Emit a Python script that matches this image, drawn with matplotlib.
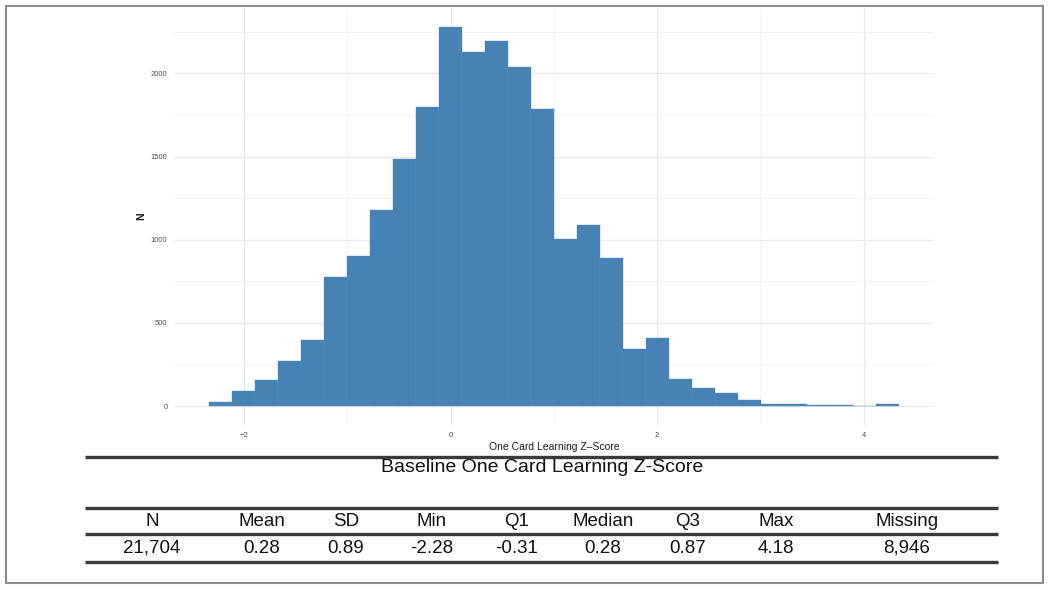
import numpy as np
import matplotlib
matplotlib.use("Agg")
import matplotlib.pyplot as plt
from matplotlib.patches import Rectangle

plt.rcParams['font.family'] = ['Liberation Sans', 'DejaVu Sans']

# histogram counts (30 bins, ggplot default binning)
counts = [26, 90, 154, 270, 395, 777, 902, 1176, 1485, 1799,
          2280, 2128, 2196, 2036, 1787, 1002, 1088, 888, 343, 409,
          162, 108, 80, 38, 14, 10, 8, 5, 0, 12]

# summary table
stat_names = ["N", "Mean", "SD", "Min", "Q1", "Median", "Q3", "Max", "Missing"]
stat_values = ["21,704", "0.28", "0.89", "-2.28", "-0.31", "0.28", "0.87", "4.18", "8,946"]
z_min, z_max = -2.28, 4.18

table_title = "Baseline One Card Learning Z-Score"
x_label = "One Card Learning Z\u2013Score"
y_label = "N"
x_ticks = [-2, 0, 2, 4]
y_ticks = [0, 500, 1000, 1500, 2000]

W, H = 1050, 590
fig = plt.figure(figsize=(W / 100, H / 100), dpi=100)

# bins like ggplot: width = range / (bins - 1), boundary = width / 2
n_bins = len(counts)
bw = (z_max - z_min) / (n_bins - 1)
origin = bw / 2 + np.floor((z_min - bw / 2) / bw) * bw
edges = origin + bw * np.arange(n_bins + 1)
centers = (edges[:-1] + edges[1:]) / 2

ax = fig.add_axes([174.4 / W, 1 - 425 / H, 759.3 / W, 417.2 / H])
ax.bar(centers, counts, width=bw, color='#4682b4', edgecolor='#5a90c0',
       linewidth=0.3, zorder=2)

xr = edges[-1] - edges[0]
ax.set_xlim(edges[0] - 0.05 * xr, edges[-1] + 0.05 * xr)
ymax = max(counts)
ax.set_ylim(-0.05 * ymax, 1.05 * ymax)

ax.set_xticks(x_ticks)
ax.set_xticks([-1, 1, 3], minor=True)
ax.set_yticks(y_ticks)
ax.set_yticks([250, 750, 1250, 1750, 2250], minor=True)
ax.set_xticklabels([str(t).replace('-', '\u2212') for t in x_ticks])
ax.grid(which='major', color='#e8e8e8', linewidth=0.9, zorder=0)
ax.grid(which='minor', color='#f1f1f1', linewidth=0.6, zorder=0)
ax.tick_params(which='both', length=0, labelsize=5.5, labelcolor='#4d4d4d', pad=5)
for s in ax.spines.values():
    s.set_visible(False)
ax.set_xlabel(x_label, fontsize=7.5, color='#1a1a1a', labelpad=2)
ax.set_ylabel(y_label, fontsize=7.5, color='#1a1a1a', labelpad=3,
              fontweight='bold')

# overlay for table and frame (pixel coords)
ov = fig.add_axes([0, 0, 1, 1], zorder=5)
ov.set_xlim(0, W)
ov.set_ylim(H, 0)
ov.axis('off')
ov.patch.set_alpha(0)

ov.add_patch(Rectangle((5.7, 5.7), 1037.6, 577.6, fill=False,
                       edgecolor='#8c8c8c', linewidth=1.5))

for yy in [456.7, 507.7, 534.3, 561.7]:
    ov.plot([85, 998], [yy, yy], color='#3a3a3a', linewidth=2.4,
            solid_capstyle='butt')

ov.text(542, 467.5, table_title, fontsize=14, ha='center', va='center',
        color='#111111')

col_x = [152, 262, 346, 432, 517, 603, 688, 776, 907]
for cx, name, val in zip(col_x, stat_names, stat_values):
    ov.text(cx, 521.5, name, fontsize=13.5, ha='center', va='center', color='#111111')
    ov.text(cx, 548.3, val, fontsize=13.5, ha='center', va='center', color='#111111')

fig.savefig("out.png", dpi=100)
